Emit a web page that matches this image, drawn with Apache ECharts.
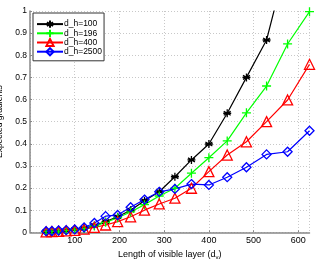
<!DOCTYPE html>
<html><head><meta charset="utf-8">
<script src="https://cdn.jsdelivr.net/npm/echarts@6/dist/echarts.min.js"></script>
<style>html,body{margin:0;padding:0;background:#fff}#c{width:316px;height:259px}</style>
</head><body><div id="c"></div>
<script>
const dv = [36,49,64,81,100,121,144,169,196,225,256,289,324,361,400,441,484,529,576,625];
const dh100  = [0.003,0.004,0.006,0.008,0.012,0.018,0.030,0.048,0.070,0.100,0.143,0.183,0.251,0.327,0.399,0.538,0.700,0.869,1.24,1.65];
const dh196  = [0.003,0.004,0.005,0.008,0.011,0.017,0.028,0.045,0.066,0.092,0.125,0.164,0.199,0.267,0.337,0.413,0.540,0.661,0.851,0.997];
const dh400  = [0.002,0.003,0.004,0.006,0.009,0.014,0.022,0.033,0.048,0.070,0.100,0.128,0.154,0.199,0.274,0.349,0.409,0.500,0.598,0.759];
const dh2500 = [0.005,0.006,0.008,0.010,0.013,0.022,0.042,0.073,0.078,0.113,0.148,0.183,0.196,0.218,0.214,0.249,0.294,0.352,0.364,0.459];
const seriesNames = ['d_h=100','d_h=196','d_h=400','d_h=2500'];
const xTicks = [100,200,300,400,500,600];

const font = 'Liberation Sans, Arial, sans-serif';
function pairs(arr){ return dv.map((x,i)=>[x,arr[i]]); }
const star = 'path://M0,-1L0,1M-0.87,-0.5L0.87,0.5M-0.87,0.5L0.87,-0.5M-1,0L1,0';
const plus = 'path://M0,-1L0,1M-1,0L1,0';
const tri = 'path://M0,-1L0.9,0.6L-0.9,0.6Z';
const dia = 'path://M0,-1.2L0.8,0L0,1.2L-0.8,0Z';

function mk(name, data, color, symbol, size){
  return {
    name, type:'line', data: pairs(data), clip:true,
    symbol, symbolSize: size,
    lineStyle:{color, width:1.2},
    itemStyle:{color:'none', borderColor:color, borderWidth:1.3},
    emphasis:{disabled:true}, animation:false
  };
}
const chart = echarts.init(document.getElementById('c'), null, {renderer:'canvas'});
chart.setOption({
  animation:false,
  textStyle:{fontFamily:font},
  grid:{left:30, right:6.5, top:11, bottom:26.7, containLabel:false, outerBoundsMode:'none'},
  legend:{
    show:true, orient:'vertical', left:33, top:13,
    data: seriesNames,
    backgroundColor:'#fff', borderColor:'#333', borderWidth:1,
    padding:[5,2,3,3], itemGap:-3, itemWidth:26, itemHeight:9,
    textStyle:{fontSize:8.5, color:'#000', fontFamily:font, padding:[0,0,0,-4], lineHeight:9}
  },
  xAxis:{
    type:'value', min:0, max:625, interval:100,
    name:'Length of visible layer (d{sub|v})', nameLocation:'middle', nameGap:5,
    nameTextStyle:{fontSize:9, color:'#000', fontFamily:font,
      rich:{sub:{fontSize:6, verticalAlign:'bottom', padding:[6,0,0,0], color:'#000'}}},
    axisLine:{show:true, lineStyle:{color:'#888', width:1.5}},
    axisTick:{show:true, inside:true, length:2, lineStyle:{color:'#888'}},
    axisLabel:{fontSize:9, color:'#000', margin:4, showMinLabel:false, showMaxLabel:false,
      formatter:v=> xTicks.includes(v) ? String(v) : ''},
    splitLine:{show:true, lineStyle:{color:'#c8c8c8', type:[1,2], width:1}}
  },
  yAxis:{
    type:'value', min:0, max:1, interval:0.1,
    name:'Expected gradients', nameLocation:'middle', nameGap:25, nameRotate:90,
    nameTextStyle:{fontSize:8.5, color:'#000', fontFamily:font},
    axisLine:{show:true, lineStyle:{color:'#888', width:1.5}},
    axisTick:{show:true, inside:true, length:2, lineStyle:{color:'#888'}},
    axisLabel:{fontSize:8.5, color:'#000', margin:3,
      formatter:v=> String(Math.round(v*10)/10)},
    splitLine:{show:true, lineStyle:{color:'#c8c8c8', type:[1,2], width:1}}
  },
  series:[
    mk(seriesNames[0], dh100, '#000000', star, 8),
    mk(seriesNames[1], dh196, '#00ff00', plus, 9),
    mk(seriesNames[2], dh400, '#ff0000', tri, 10),
    mk(seriesNames[3], dh2500, '#0000ff', dia, 9)
  ]
});
</script></body></html>
